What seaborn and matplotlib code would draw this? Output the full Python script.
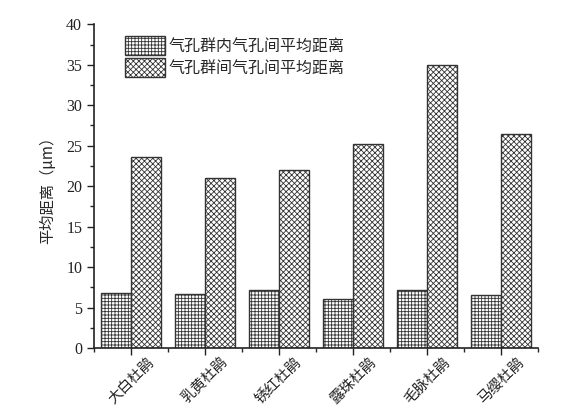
import numpy as np
import pandas as pd
import seaborn as sns
import matplotlib.pyplot as plt
from matplotlib.patches import Patch
from matplotlib.ticker import MultipleLocator

species = ["大白杜鹃", "乳黄杜鹃", "锈红杜鹃", "露珠杜鹃", "毛脉杜鹃", "马缨杜鹃"]
within_group = [6.8, 6.7, 7.2, 6.0, 7.2, 6.6]
between_group = [23.6, 21.0, 22.0, 25.2, 35.0, 26.5]
series_names = ["气孔群内气孔间平均距离", "气孔群间气孔间平均距离"]

df = pd.DataFrame({
    "species": species * 2,
    "dist": within_group + between_group,
    "kind": [series_names[0]] * 6 + [series_names[1]] * 6,
})

sns.set_style("ticks")
plt.rcParams["font.family"] = ["Liberation Serif", "Noto Sans CJK SC", "DejaVu Sans"]
plt.rcParams["hatch.linewidth"] = 0.6
plt.rcParams["hatch.color"] = "#333333"

fig = plt.figure(figsize=(5.61, 4.11), dpi=100)
ax = fig.add_axes([94 / 561, 1 - 348 / 411, (538 - 94) / 561, (348 - 24.3) / 411])

sns.barplot(data=df, x="species", y="dist", hue="kind", ax=ax,
            width=0.81, gap=0, legend=False)

hatches = ["+++++", "xxxxxx"]
for cont, h in zip(ax.containers, hatches):
    for bar in cont:
        bar.set_facecolor("white")
        bar.set_edgecolor("#333333")
        bar.set_linewidth(1.0)
        bar.set_hatch(h)

ax.set_xlim(-0.5, 5.5)
ax.set_ylim(0, 40)
ax.yaxis.set_major_locator(MultipleLocator(5))
ax.yaxis.set_minor_locator(MultipleLocator(2.5))
ax.set_xticks(np.arange(-0.5, 6, 1), minor=True)
ax.tick_params(axis="both", which="major", length=5, width=1, labelsize=11.5, colors="#222222")
ax.tick_params(axis="both", which="minor", length=3, width=1)
ax.tick_params(axis="x", which="major", pad=0)
ax.set_xticklabels(species, rotation=45, ha="center", fontsize=10.5)
for lab in ax.get_xticklabels():
    lab.set_family(["Noto Sans CJK SC", "DejaVu Sans"])
sns.despine(ax=ax)
for sp in ["left", "bottom"]:
    ax.spines[sp].set_linewidth(1.2)
    ax.spines[sp].set_color("#222222")

ax.set_xlabel("")
ax.set_ylabel("平均距离（μm）", fontsize=11, family=["Noto Sans CJK SC", "DejaVu Sans"], labelpad=7)

handles = [Patch(facecolor="white", edgecolor="#333333", hatch=h, linewidth=1.0) for h in hatches]
leg = ax.legend(handles, series_names, loc="upper left", bbox_to_anchor=(0.07, 0.964),
                borderaxespad=0, borderpad=0,
                frameon=False, handlelength=2.5, handleheight=1.45, handletextpad=0.2,
                labelspacing=0.2, prop={"family": "Noto Sans CJK SC", "size": 11.5})

fig.savefig("out.png", dpi=100)
